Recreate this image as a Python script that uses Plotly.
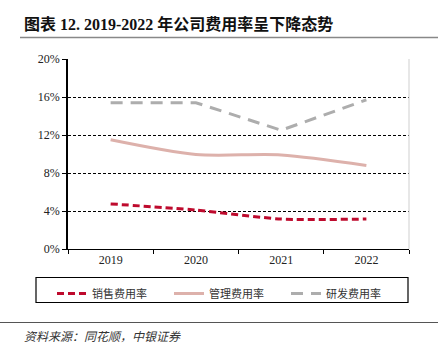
import plotly.graph_objects as go

# Expense ratios (%) by year
years = ["2019", "2020", "2021", "2022"]
selling_ratio = [4.75, 4.1, 3.15, 3.15]
admin_ratio = [11.5, 9.95, 9.9, 8.8]
rnd_ratio = [15.4, 15.4, 12.5, 15.7]

y_ticks = [0, 4, 8, 12, 16, 20]
y_tick_labels = ["0%", "4%", "8%", "12%", "16%", "20%"]

W, H = 438, 349
ML, MR, MT, MB = 68, 29, 59, 100
PW, PH = W - ML - MR, H - MT - MB


def px(x):
    return (x - ML) / PW


def py(y):
    return (H - MB - y) / PH


SERIF = "Liberation Serif, Times New Roman, serif"
CJK = "Liberation Serif, Noto Sans CJK SC, serif"

fig = go.Figure()
fig.add_trace(go.Scatter(
    x=years, y=selling_ratio, name="销售费用率", mode="lines",
    line=dict(color="#BE0A2D", width=3, dash="7px,4px", shape="spline", smoothing=0.6),
))
fig.add_trace(go.Scatter(
    x=years, y=admin_ratio, name="管理费用率", mode="lines",
    line=dict(color="#DDB1AB", width=3, shape="spline", smoothing=0.8),
))
fig.add_trace(go.Scatter(
    x=years, y=rnd_ratio, name="研发费用率", mode="lines",
    line=dict(color="#ADADAD", width=3, dash="12px,8px"),
))

fig.update_layout(
    width=W, height=H,
    margin=dict(l=ML, r=MR, t=MT, b=MB),
    paper_bgcolor="white", plot_bgcolor="white",
    font=dict(family=SERIF, size=12, color="#222"),
    xaxis=dict(
        type="category", range=[-0.5, 3.5], tickson="boundaries",
        ticks="outside", ticklen=4,
        tickcolor="black", showline=True, linecolor="black", linewidth=1,
        showgrid=False, tickfont=dict(family=SERIF, size=12, color="#222"),
    ),
    yaxis=dict(
        range=[0, 20], tickvals=y_ticks, ticktext=y_tick_labels,
        ticks="outside", ticklen=4, tickcolor="black",
        showline=True, linecolor="black", linewidth=1.5,
        showgrid=True, gridcolor="black", gridwidth=1, griddash="3px,2px",
        zeroline=False, tickfont=dict(family=SERIF, size=12, color="#222"),
    ),
    showlegend=True,
    legend=dict(
        orientation="h", x=px(52), y=py(279), xanchor="left", yanchor="top",
        entrywidth=72, entrywidthmode="pixels", borderwidth=0,
        bgcolor="rgba(0,0,0,0)",
        font=dict(family="Noto Sans CJK SC", size=11, color="#333"),
    ),
)

shapes = [
    # right frame line of plot area
    dict(type="line", xref="paper", yref="paper", x0=1, x1=1, y0=0, y1=1,
         line=dict(color="#CFCFCF", width=1)),
    # legend box
    dict(type="rect", xref="paper", yref="paper", x0=px(36), x1=px(408),
         y0=py(277.5), y1=py(302.5), line=dict(color="black", width=1.2)),
    # rule under the title
    dict(type="line", xref="paper", yref="paper", x0=px(20), x1=px(438),
         y0=py(37.5), y1=py(37.5), line=dict(color="#888", width=1.5)),
    # rule above the source line
    dict(type="line", xref="paper", yref="paper", x0=px(0), x1=px(438),
         y0=py(322.5), y1=py(322.5), line=dict(color="#555", width=1)),
]
fig.update_layout(shapes=shapes)

fig.add_annotation(
    text="<b>图表 12. 2019-2022 年公司费用率呈下降态势</b>",
    xref="paper", yref="paper", x=px(22), y=py(24), xanchor="left", yanchor="middle",
    showarrow=False, font=dict(family=CJK, size=16, color="#111"),
)
fig.add_annotation(
    text="<i>资料来源：同花顺，中银证券</i>",
    xref="paper", yref="paper", x=px(22), y=py(335), xanchor="left", yanchor="middle",
    showarrow=False, font=dict(family="Noto Sans CJK SC", size=12, color="#333"),
)

fig.write_html("out.html")
